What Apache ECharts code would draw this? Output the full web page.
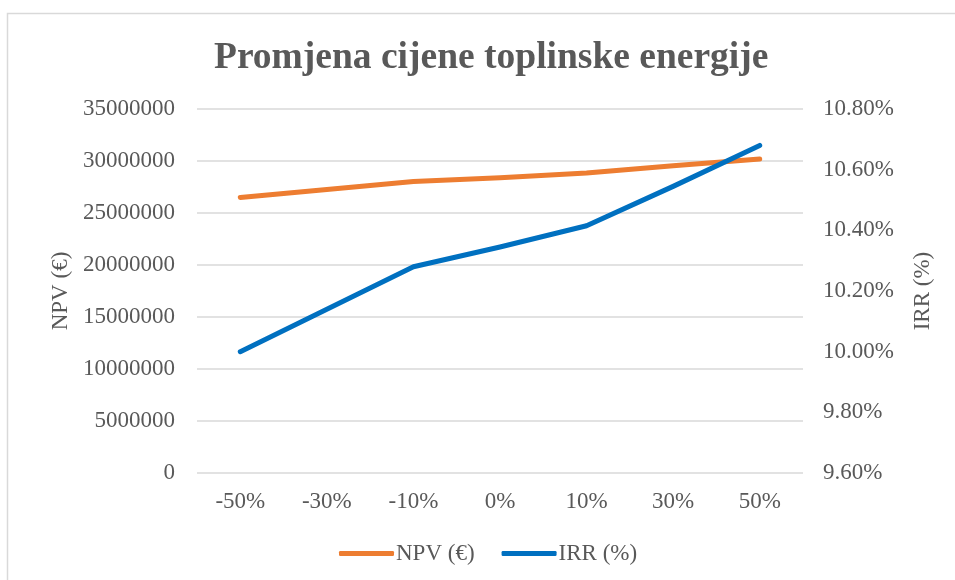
<!DOCTYPE html>
<html>
<head>
<meta charset="utf-8">
<script src="https://cdn.jsdelivr.net/npm/echarts@6/dist/echarts.min.js"></script>
<style>
html,body{margin:0;padding:0;background:#fff;}
#chart{width:955px;height:580px;}
</style>
</head>
<body>
<div id="chart"></div>
<script>
const titleText = 'Promjena cijene toplinske energije';
const categories = ['-50%', '-30%', '-10%', '0%', '10%', '30%', '50%'];
const npvName = 'NPV (€)';
const irrName = 'IRR (%)';
const npvValues = [26500000, 27250000, 28030000, 28400000, 28840000, 29540000, 30200000];
const irrValues = [10.00, 10.14, 10.28, 10.345, 10.415, 10.545, 10.68];

const textColor = '#595959';
const font = '"Liberation Serif", "Times New Roman", serif';
const chart = echarts.init(document.getElementById('chart'), null, {renderer: 'canvas'});
chart.setOption({
  backgroundColor: '#ffffff',
  animation: false,
  title: {
    text: titleText,
    left: 209,
    top: 34,
    textStyle: {fontFamily: font, fontSize: 37.5, fontWeight: 'bold', color: textColor}
  },
  graphic: [{
    type: 'polyline',
    shape: {points: [[7.5, 580], [7.5, 13.5], [955, 13.5]]},
    style: {stroke: '#d9d9d9', lineWidth: 1.5, fill: null}
  }],
  grid: {left: 197, right: 152, top: 109, bottom: 107},
  legend: {
    data: [npvName, irrName],
    bottom: 10,
    left: 334,
    icon: 'roundRect',
    itemWidth: 55,
    itemHeight: 5,
    itemGap: 27,
    textStyle: {fontFamily: font, fontSize: 23, color: textColor, padding: [0, 0, 0, -3]}
  },
  xAxis: {
    type: 'category',
    data: categories,
    boundaryGap: true,
    axisLine: {show: false},
    axisTick: {show: false},
    axisLabel: {fontFamily: font, fontSize: 23, color: textColor, margin: 17}
  },
  yAxis: [{
    type: 'value',
    min: 0,
    max: 35000000,
    interval: 5000000,
    name: npvName,
    nameLocation: 'middle',
    nameRotate: 90,
    nameGap: 116,
    nameTextStyle: {fontFamily: font, fontSize: 23, color: textColor},
    axisLine: {show: false},
    axisTick: {show: false},
    axisLabel: {fontFamily: font, fontSize: 23, color: textColor, margin: 22,
      formatter: v => String(v)},
    splitLine: {lineStyle: {color: '#d9d9d9', width: 1.5}}
  }, {
    type: 'value',
    min: 9.6,
    max: 10.8,
    interval: 0.2,
    position: 'right',
    name: irrName,
    nameLocation: 'middle',
    nameRotate: 90,
    nameGap: 108,
    nameTextStyle: {fontFamily: font, fontSize: 23, color: textColor},
    axisLine: {show: false},
    axisTick: {show: false},
    axisLabel: {fontFamily: font, fontSize: 23, color: textColor, margin: 20,
      formatter: v => v.toFixed(2) + '%'},
    splitLine: {show: false}
  }],
  series: [{
    name: npvName,
    type: 'line',
    yAxisIndex: 0,
    data: npvValues,
    showSymbol: false,
    symbol: 'none',
    itemStyle: {color: '#ED7D31'},
    lineStyle: {color: '#ED7D31', width: 5, cap: 'round', join: 'round'}
  }, {
    name: irrName,
    type: 'line',
    yAxisIndex: 1,
    data: irrValues,
    showSymbol: false,
    symbol: 'none',
    itemStyle: {color: '#0070C0'},
    lineStyle: {color: '#0070C0', width: 5, cap: 'round', join: 'round'}
  }]
});
</script>
</body>
</html>
